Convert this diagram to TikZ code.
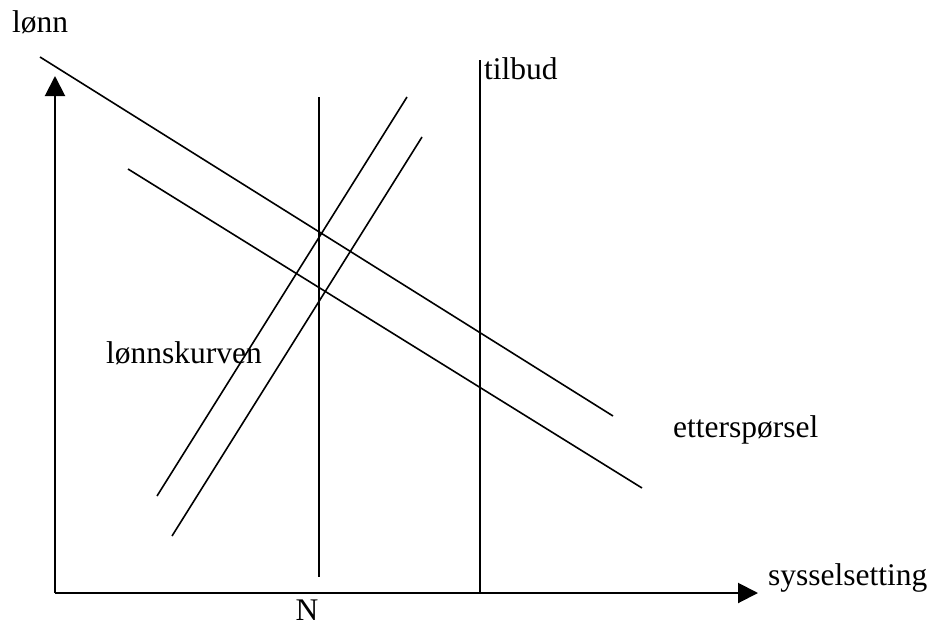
\documentclass[tikz,border=0pt]{standalone}
\usepackage{fontspec}
\setmainfont{Liberation Serif}
\usetikzlibrary{
  positioning,
  arrows.meta,
}

\begin{document}
\begin{tikzpicture}[
  x=1pt, y=-1pt,
  every node/.style={inner sep=0pt, font=\fontsize{31.5}{36}\selectfont},
  %
  axis/.style={line width=2pt, -{Triangle[length=20pt, width=20pt]}},
  curve/.style={line width=1.6pt},
  lbl/.style={anchor=base west},
]
\useasboundingbox (0,0) rectangle (931,621);

% ────────────── AXES ──────────────────────────────────────────────────────
\coordinate (O)    at (55,593);
\coordinate (ytop) at (55,76);
\coordinate (xend) at (758,593);
\draw[axis] (O) -- (ytop);
\draw[axis] (O) -- (xend);

\node[lbl] (lonn) at (12,32) {lønn};
\node[lbl] (syss) at (768,585) {sysselsetting};
\node[anchor=base] (N) at (307,620) {N};

% ────────────── DEMAND (etterspørsel) ─────────────────────────────────────
\coordinate (d1a) at (40,57);
\coordinate (d1b) at (613,416);
\coordinate (d2a) at (128,169);
\coordinate (d2b) at (642,488);
\draw[curve] (d1a) -- (d1b);
\draw[curve] (d2a) -- (d2b);
\node[lbl] (ett) at (673,437) {etterspørsel};

% ────────────── WAGE CURVE (lønnskurven) ──────────────────────────────────
\coordinate (w1a) at (157,496);
\coordinate (w1b) at (407,97);
\coordinate (w2a) at (172,536);
\coordinate (w2b) at (422,137);
\draw[curve] (w1a) -- (w1b);
\draw[curve] (w2a) -- (w2b);
\node[lbl] (lk) at (106,363) {lønnskurven};

% ────────────── VERTICALS: N and supply (tilbud) ──────────────────────────
\coordinate (ntop) at (319,97);
\coordinate (nbot) at (319,577);
\draw[curve] (ntop) -- (nbot);

\coordinate (ttop) at (480,60);
\coordinate (tbot) at (480,593);
\draw[curve] (ttop) -- (tbot);
\node[lbl] (tilb) at (484,79) {tilbud};

\end{tikzpicture}
\end{document}
